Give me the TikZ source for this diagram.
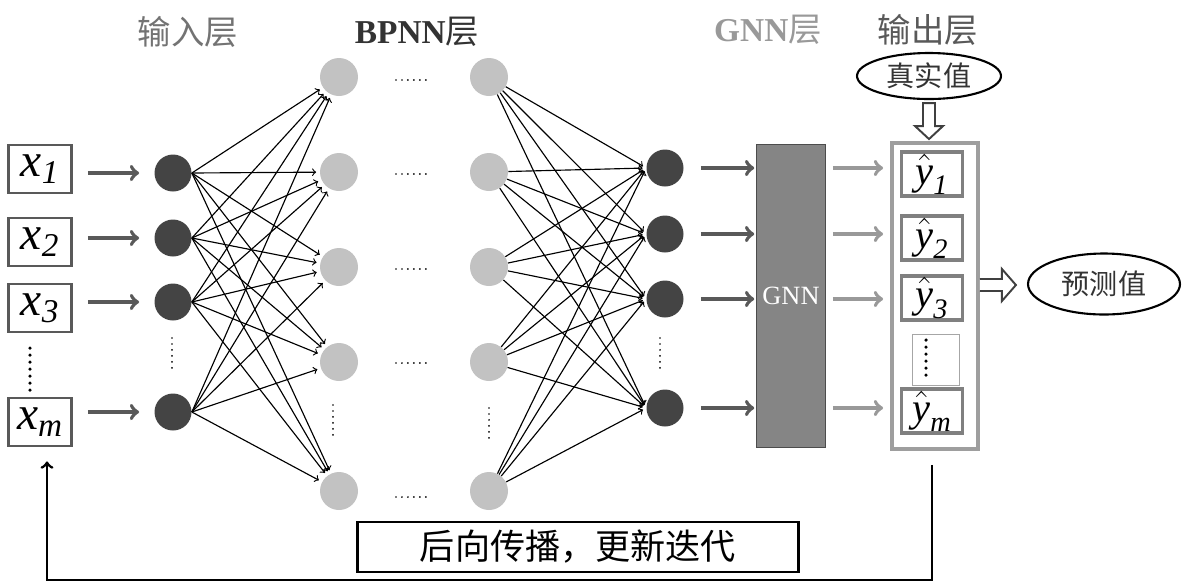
\documentclass[tikz,border=0pt]{standalone}
\usepackage{amsmath}
\usepackage{amssymb}
\usepackage{fontspec}
\setmainfont{Liberation Serif}
\newfontfamily\cjk{Noto Sans CJK SC}
\usepackage{tikz}
\usetikzlibrary{shapes.geometric}

\definecolor{darknode}{HTML}{444444}
\definecolor{lightnode}{HTML}{C2C2C2}
\definecolor{gnnfill}{HTML}{858585}

\tikzset{
  title/.style={font=\cjk\fontsize{19}{19}\selectfont},
  dnode/.style={circle, fill=darknode, minimum size=0.74cm, inner sep=0pt},
  lnode/.style={circle, fill=lightnode, minimum size=0.76cm, inner sep=0pt},
  inbox/.style={draw=black!65, line width=1.6pt, minimum width=1.26cm, minimum height=0.96cm, inner sep=0pt, font=\fontsize{27}{27}\selectfont},
  ybox/.style={draw=black!50, line width=1.8pt, minimum width=1.22cm, minimum height=0.88cm, inner sep=0pt, font=\fontsize{23}{23}\selectfont},
  oval/.style={ellipse, draw, line width=1.2pt, inner sep=0pt, text=black!80, font=\cjk\fontsize{16}{16}\selectfont},
  thinarr/.style={->, line width=0.65pt, shorten >=2pt},
  darkarr/.style={->, draw=black!65, line width=2.2pt},
  lightarr/.style={->, draw=black!40, line width=2.2pt},
  hollow/.style={draw=black!75, line width=1.1pt, fill=white},
  dotline/.style={line width=1.1pt, line cap=round, dash pattern=on 0pt off 3.4pt},
  bigdots/.style={line width=2pt, line cap=round, dash pattern=on 0pt off 4pt}
}

\begin{document}
\begin{tikzpicture}[x=0.02cm, y=-0.02cm]
  \useasboundingbox (0,0) rectangle (1183,583);

  % layer titles
  \node[title, text=black!55] (tin) at (188,32) {输入层};
  \node[title, text=black!80] (tbp) at (417,32) {{\fontspec{Liberation Serif}\bfseries BPNN}层};
  \node[title, text=black!40] (tgnn) at (768,30) {{\fontspec{Liberation Serif}\bfseries GNN}层};
  \node[title, text=black!65] (tout) at (928,30) {输出层};

  % inputs
  \node[inbox] (x1) at (40,169) {$\textit{x}_{\textit{1}}$};
  \node[inbox] (x2) at (40,242) {$\textit{x}_{\textit{2}}$};
  \node[inbox] (x3) at (40,308) {$\textit{x}_{\textit{3}}$};
  \node[inbox] (xm) at (40,422) {$\textit{x}_{\textit{m}}$};
  \draw[bigdots] (30,348) -- (30,392);

  % input layer nodes
  \foreach \i/\y in {1/173,2/238,3/302,4/412}
    \node[dnode] (i\i) at (173,\y) {};
  \draw[dotline] (172,338) -- (172,370);

  % BPNN layers
  \foreach \i/\y in {1/77,2/172,3/267,4/362,5/491} {
    \node[lnode] (h\i) at (339,\y) {};
    \node[lnode] (g\i) at (489,\y) {};
  }
  \foreach \y in {80,174,269,363,497}
    \draw[dotline] (396,\y) -- (430,\y);
  \draw[dotline] (333,405) -- (333,437);
  \draw[dotline] (489,408) -- (489,440);

  % nodes in front of GNN
  \foreach \i/\y in {1/168,2/234,3/299,4/408}
    \node[dnode] (r\i) at (665,\y) {};
  \draw[dotline] (660,338) -- (660,370);

  % full connections
  \foreach \i in {1,...,4}
    \foreach \j in {1,...,5} {
      \draw[thinarr] (i\i.east) -- (h\j);
      \draw[thinarr] (g\j) -- (r\i.west);
    }

  \foreach \a/\b in {x1/i1,x2/i2,x3/i3,xm/i4}
    \draw[darkarr, shorten <=0.3cm, shorten >=0.3cm] (\a.east |- \b) -- (\b);

  % GNN block
  \node[draw=black!70, fill=gnnfill, minimum width=1.36cm, minimum height=6.06cm,
        text=white!92, font=\fontsize{15}{15}\selectfont] (gnn) at (791,296) {GNN};
  \foreach \i in {1,...,4}
    \draw[darkarr, shorten <=0.34cm, shorten >=0.04cm] (r\i) -- (r\i -| gnn.west);

  % output layer
  \node[draw=black!38, line width=2.2pt, minimum width=1.72cm, minimum height=6.12cm] (out) at (935,296) {};
  \node[ybox] (y1) at (932,174) {$\hat{\textit{y}}_{\textit{1}}$};
  \node[ybox] (y2) at (932,238) {$\hat{\textit{y}}_{\textit{2}}$};
  \node[ybox] (y3) at (932,298) {$\hat{\textit{y}}_{\textit{3}}$};
  \node[draw=black!35, line width=0.6pt, minimum width=0.94cm, minimum height=1.02cm] (ydots) at (936,360) {};
  \draw[bigdots] (926,340) -- (926,382);
  \node[ybox] (ym) at (932,411) {$\hat{\textit{y}}_{\textit{m}}$};
  \foreach \i in {1,...,4}
    \draw[lightarr, shorten <=0.14cm, shorten >=0.14cm] (r\i -| gnn.east) -- (r\i -| out.west);

  % true value and prediction
  \node[oval, minimum width=2.88cm, minimum height=0.92cm] (truth) at (929,76) {真实值};
  \draw[hollow] ([shift={(-6,3)}]truth.south) -- ++(0,23) -- ++(-8,0) -- ++(14,13)
        -- ++(14,-13) -- ++(-8,0) -- ++(0,-23) -- cycle;
  \draw[hollow] ([shift={(0,-17)}]out.east) -- ++(22,0) -- ++(0,-10) -- ++(14,16)
        -- ++(-14,16) -- ++(0,-10) -- ++(-22,0);
  \node[oval, minimum width=3.04cm, minimum height=1.22cm] (pred) at (1104,284) {预测值};

  % back propagation
  \node[draw, line width=1.6pt, minimum width=8.82cm, minimum height=1cm,
        font=\cjk\fontsize{20}{20}\selectfont] (bp) at (578,547) {后向传播，更新迭代};
  \coordinate (fbend) at ([shift={(7,14)}]xm.south);
  \draw[->, line width=1.6pt] ([shift={(-3,14)}]out.south) -- ++(0,115) -| (fbend);
\end{tikzpicture}
\end{document}
